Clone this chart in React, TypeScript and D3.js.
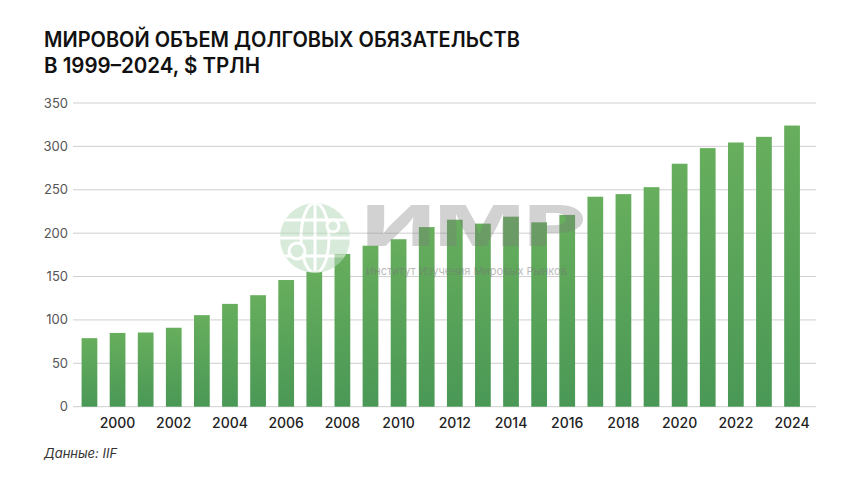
import React from "react";
import * as d3 from "d3";

const years: string[] = [
  "1999","2000","2001","2002","2003","2004","2005","2006","2007","2008","2009","2010","2011",
  "2012","2013","2014","2015","2016","2017","2018","2019","2020","2021","2022","2023","2024",
];
const debt: number[] = [
  79, 85, 85.5, 91, 105.5, 118.5, 128.5, 146, 155.5, 176, 185.5, 193, 207,
  215.5, 211, 219, 212.5, 221, 242, 245, 253, 280, 298, 304.5, 311, 324,
];
const yTicks: number[] = [0, 50, 100, 150, 200, 250, 300, 350];
const xTickLabels: string[] = ["2000","2002","2004","2006","2008","2010","2012","2014","2016","2018","2020","2022","2024"];
const titleLines: string[] = ["Мировой объем долговых обязательств", "в 1999–2024, $ трлн"];
const sourceText = "Данные: IIF";
const wmMain = "ИМР";
const wmSub = "Институт Изучения Мировых Рынков";

const W = 860;
const H = 484;

export default function App() {
  const x = d3.scaleBand<string>().domain(years).range([75.4, 806.1]).paddingInner(0.44).paddingOuter(0.22);
  const y = d3.scaleLinear().domain([0, 350]).range([406.7, 103]);
  const font = "Inter, 'Noto Sans', sans-serif";
  const gx0 = 73, gx1 = 816;
  const cx = 315, cy = 238, r = 35;
  return (
    <svg width={W} height={H} style={{ position: "absolute", left: 0, top: 0, background: "#fff" }}>
      <defs>
        <linearGradient id="barG" x1="0" y1="0" x2="0" y2="1">
          <stop offset="0" stopColor="#67ae5d" />
          <stop offset="1" stopColor="#4a9856" />
        </linearGradient>
        <clipPath id="globeClip"><circle cx={cx} cy={cy} r={r} /></clipPath>
      </defs>
      <rect x={0} y={0} width={W} height={H} fill="#fff" />
      {titleLines.map((t, i) => (
        <text key={i} x={44} y={i === 0 ? 46.5 : 73} fontFamily={font} fontWeight={600} fontSize={21}
          fill="#111" style={{ textTransform: "uppercase" }}
          textLength={i === 0 ? 476 : 216} lengthAdjust="spacingAndGlyphs">{t}</text>
      ))}
      {yTicks.map((v) => (
        <g key={v}>
          <line x1={gx0} x2={gx1} y1={y(v)} y2={y(v)} stroke="#cfcfcf" strokeWidth={1} />
          <text x={68} y={y(v)} dy="0.35em" textAnchor="end" fontFamily={font} fontSize={13} fill="#555">{v}</text>
        </g>
      ))}
      {years.map((yr, i) => (
        <rect key={yr} x={x(yr)} y={y(debt[i])} width={x.bandwidth()} height={y(0) - y(debt[i])} fill="url(#barG)" />
      ))}
      {xTickLabels.map((t) => (
        <text key={t} x={(x(t) as number) + x.bandwidth() / 2} y={428} textAnchor="middle"
          fontFamily={font} fontWeight={500} fontSize={14} fill="#222">{t}</text>
      ))}
      <text x={44} y={458} fontFamily={font} fontStyle="italic" fontSize={13} fill="#333">{sourceText}</text>
      {/* watermark */}
      <g opacity={0.55}>
        <circle cx={cx} cy={cy} r={r} fill="#b9dcbe" />
        <g clipPath="url(#globeClip)" stroke="#fff" strokeWidth={3} fill="none">
          <ellipse cx={cx} cy={cy} rx={14} ry={r} />
          <line x1={cx} y1={cy - r} x2={cx} y2={cy + r} />
          <line x1={cx - r} y1={cy} x2={cx + r} y2={cy} />
          <line x1={cx - r} y1={cy - 18} x2={cx + r} y2={cy - 18} />
          <line x1={cx - r} y1={cy + 18} x2={cx + r} y2={cy + 18} />
        </g>
        <circle cx={cx + 18} cy={cy - 12} r={6} fill="#b9dcbe" stroke="#fff" strokeWidth={3} />
        <circle cx={cx - 18} cy={cy + 13} r={8} fill="#b9dcbe" stroke="#fff" strokeWidth={3} />
      </g>
      <text x={362} y={246} fontFamily={font} fontWeight={800} fontSize={57} fill="#7a7a7a" opacity={0.33}
        textLength={224} lengthAdjust="spacingAndGlyphs">{wmMain}</text>
      <text x={366} y={275} fontFamily={font} fontSize={11} fill="#777" opacity={0.5}>{wmSub}</text>
    </svg>
  );
}
